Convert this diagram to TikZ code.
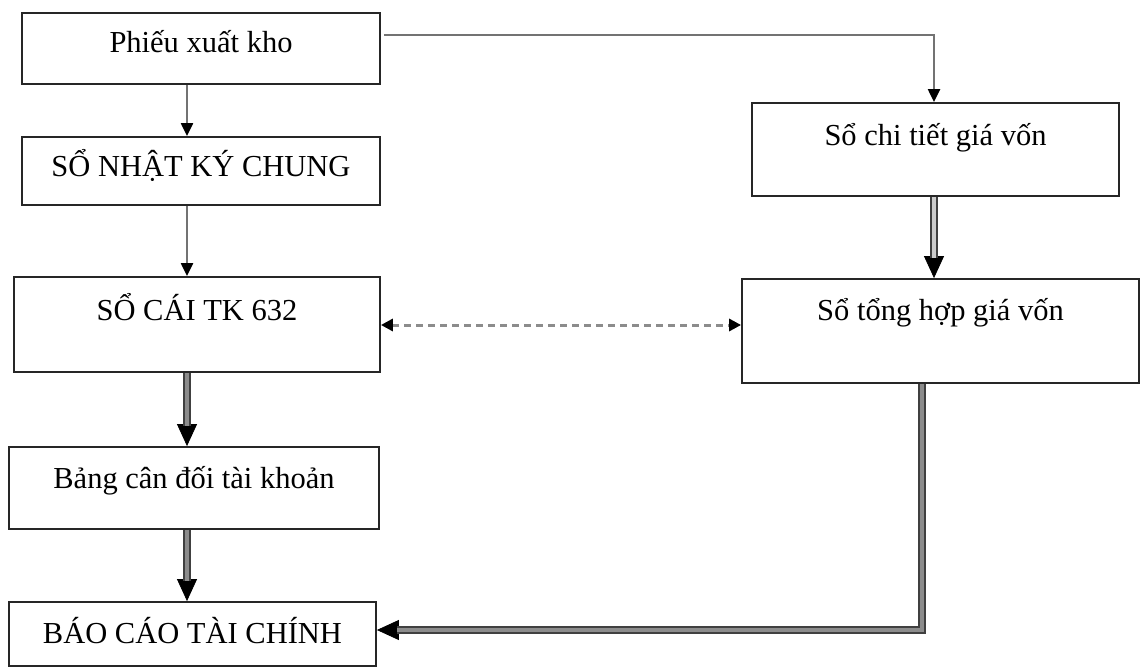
\documentclass[tikz,border=0pt]{standalone}
\usepackage{fontspec}
\setmainfont{Liberation Serif}
\usetikzlibrary{arrows.meta}
\begin{document}
\begin{tikzpicture}[x=1pt,y=-1pt,
  stepbox/.style={draw=black!85, line width=1.8pt, inner sep=0pt, anchor=base,
    font=\fontsize{30.5}{36}\selectfont},
  thinarrow/.style={draw=black!55, line width=2.2pt,
    -{Triangle[length=13pt,width=12pt,color=black,fill=black]}},
  headpass/.style={draw=black, line width=0.8pt,
    -{Triangle[length=22pt,width=20pt]}},
  dbl/.style={draw=black!75, line width=1.8pt, double=black!45,
    double distance=4.5pt, shorten >=20pt},
  dashlink/.style={draw=black!45, line width=3pt, dash pattern=on 7pt off 5pt,
    {Triangle[length=12pt,width=12pt,color=black,fill=black]}-{Triangle[length=12pt,width=12pt,color=black,fill=black]}}
]
\useasboundingbox (0,0) rectangle (1143,668);

% boxes
\node[stepbox, minimum width=358pt, text height=40pt, text depth=31pt] (phieu) at (201,53) {Phiếu xuất kho};
\node[stepbox, minimum width=358pt, text height=40pt, text depth=28pt] (nk) at (201,177) {SỔ NHẬT KÝ CHUNG};
\node[stepbox, minimum width=366pt, text height=43pt, text depth=52pt] (socai) at (197,320) {SỔ CÁI TK 632};
\node[stepbox, minimum width=370pt, text height=41pt, text depth=41pt] (bang) at (194,488) {Bảng cân đối tài khoản};
\node[stepbox, minimum width=367pt, text height=41pt, text depth=23pt] (bctc) at (192.5,643) {BÁO CÁO TÀI CHÍNH};
\node[stepbox, minimum width=367pt, text height=43pt, text depth=50pt] (chitiet) at (935.5,146) {Sổ chi tiết giá vốn};
\node[stepbox, minimum width=397pt, text height=41pt, text depth=63pt] (tonghop) at (940.5,320) {Sổ tổng hợp giá vốn};

% routing columns and rows
\coordinate (colL) at (187,0);
\coordinate (colR) at (934,0);
\coordinate (colB) at (922,0);
\coordinate (rowT) at (0,35);
\coordinate (rowD) at (0,325);
\coordinate (rowB) at (0,630);

% thin connectors
\draw[thinarrow] (phieu.south -| colL) -- (nk.north -| colL);
\draw[thinarrow] (nk.south -| colL) -- (socai.north -| colL);
\draw[thinarrow, shorten <=3pt] (phieu.east |- rowT) -| (chitiet.north -| colR);

% heavy connectors: head first, then the double shaft over it
\draw[headpass] (socai.south -| colL) -- (bang.north -| colL);
\draw[dbl] (socai.south -| colL) -- (bang.north -| colL);
\draw[headpass] (bang.south -| colL) -- (bctc.north -| colL);
\draw[dbl] (bang.south -| colL) -- (bctc.north -| colL);
\draw[headpass] (chitiet.south -| colR) -- (tonghop.north -| colR);
\draw[dbl, double=black!20] (chitiet.south -| colR) -- (tonghop.north -| colR);
\draw[headpass] (tonghop.south -| colB) |- (bctc.east |- rowB);
\draw[dbl] (tonghop.south -| colB) |- (bctc.east |- rowB);

% two-way dashed link
\draw[dashlink] (socai.east |- rowD) -- (tonghop.west |- rowD);
\end{tikzpicture}
\end{document}
